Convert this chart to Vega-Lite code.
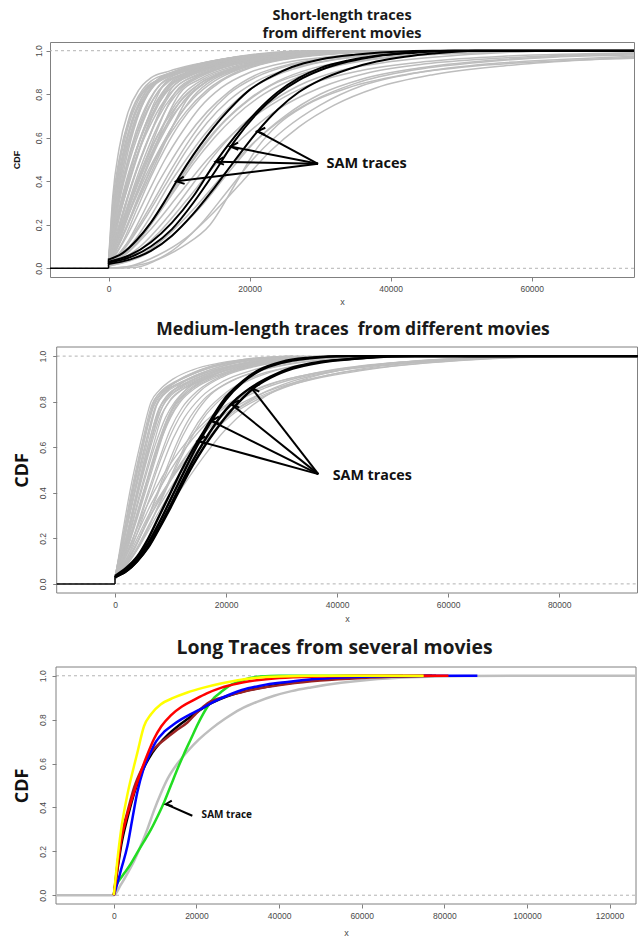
{
  "$schema": "https://vega.github.io/schema/vega-lite/v6.json",
  "background": "white",
  "padding": {"left": 12, "top": 7, "right": 3, "bottom": 2},
  "columns": 1,
  "align": "none",
  "bounds": "full",
  "spacing": 14,
  "config": {
    "view": {"stroke": "#808080", "strokeWidth": 1},
    "axis": {"grid": false, "domain": false, "tickColor": "#808080", "tickSize": 4, "tickWidth": 1, "labelFont": "Liberation Sans", "labelFontSize": 8.5, "labelColor": "#4a4a4a", "labelPadding": 3, "labelOverlap": false, "labelFlush": false, "titleFont": "Liberation Sans", "titleFontSize": 9, "titleFontWeight": "normal", "titleColor": "#4a4a4a"},
    "title": {"font": "Open Sans", "fontWeight": "bold", "color": "#1a1a1a", "anchor": "middle"}
  },
  "datasets": {
    "h": [{"y": 0}, {"y": 1}],
    "g1": [
      {"c":"a1","x":0,"y":0.02},{"c":"a1","x":600,"y":0.3},{"c":"a1","x":1500,"y":0.5},{"c":"a1","x":3000,"y":0.7},{"c":"a1","x":4800,"y":0.82},{"c":"a1","x":6000,"y":0.86},{"c":"a1","x":9000,"y":0.9},{"c":"a1","x":13000,"y":0.94},{"c":"a1","x":18000,"y":0.97},{"c":"a1","x":24000,"y":0.99},{"c":"a1","x":30000,"y":1},
      {"c":"a2","x":0,"y":0.02},{"c":"a2","x":700,"y":0.28},{"c":"a2","x":1700,"y":0.48},{"c":"a2","x":3300,"y":0.68},{"c":"a2","x":5200,"y":0.81},{"c":"a2","x":6500,"y":0.855},{"c":"a2","x":9500,"y":0.9},{"c":"a2","x":14000,"y":0.94},{"c":"a2","x":19000,"y":0.97},{"c":"a2","x":25000,"y":0.99},{"c":"a2","x":32000,"y":1},
      {"c":"a3","x":0,"y":0.01},{"c":"a3","x":800,"y":0.25},{"c":"a3","x":2000,"y":0.46},{"c":"a3","x":3800,"y":0.67},{"c":"a3","x":5600,"y":0.8},{"c":"a3","x":7000,"y":0.86},{"c":"a3","x":10000,"y":0.9},{"c":"a3","x":15000,"y":0.94},{"c":"a3","x":20000,"y":0.97},{"c":"a3","x":26000,"y":0.99},{"c":"a3","x":33000,"y":1},
      {"c":"a4","x":0,"y":0.02},{"c":"a4","x":900,"y":0.22},{"c":"a4","x":2300,"y":0.43},{"c":"a4","x":4200,"y":0.64},{"c":"a4","x":6000,"y":0.78},{"c":"a4","x":7500,"y":0.85},{"c":"a4","x":10500,"y":0.89},{"c":"a4","x":14000,"y":0.93},{"c":"a4","x":19000,"y":0.965},{"c":"a4","x":25000,"y":0.985},{"c":"a4","x":33000,"y":1},
      {"c":"a5","x":0,"y":0.02},{"c":"a5","x":1000,"y":0.2},{"c":"a5","x":2600,"y":0.4},{"c":"a5","x":4600,"y":0.6},{"c":"a5","x":6600,"y":0.77},{"c":"a5","x":8000,"y":0.85},{"c":"a5","x":11000,"y":0.9},{"c":"a5","x":16000,"y":0.95},{"c":"a5","x":22000,"y":0.98},{"c":"a5","x":28000,"y":0.995},{"c":"a5","x":34000,"y":1},
      {"c":"a6","x":0,"y":0.03},{"c":"a6","x":1200,"y":0.2},{"c":"a6","x":3000,"y":0.4},{"c":"a6","x":5000,"y":0.6},{"c":"a6","x":7000,"y":0.76},{"c":"a6","x":8500,"y":0.84},{"c":"a6","x":12000,"y":0.9},{"c":"a6","x":17000,"y":0.94},{"c":"a6","x":23000,"y":0.97},{"c":"a6","x":30000,"y":0.99},{"c":"a6","x":38000,"y":1},
      {"c":"a7","x":0,"y":0.02},{"c":"a7","x":1300,"y":0.18},{"c":"a7","x":3200,"y":0.38},{"c":"a7","x":5500,"y":0.58},{"c":"a7","x":7500,"y":0.74},{"c":"a7","x":9000,"y":0.83},{"c":"a7","x":12000,"y":0.89},{"c":"a7","x":16000,"y":0.93},{"c":"a7","x":21000,"y":0.96},{"c":"a7","x":28000,"y":0.985},{"c":"a7","x":36000,"y":1},
      {"c":"a8","x":0,"y":0.02},{"c":"a8","x":1500,"y":0.17},{"c":"a8","x":3600,"y":0.36},{"c":"a8","x":6000,"y":0.56},{"c":"a8","x":8000,"y":0.72},{"c":"a8","x":9500,"y":0.81},{"c":"a8","x":12500,"y":0.88},{"c":"a8","x":17000,"y":0.93},{"c":"a8","x":23000,"y":0.965},{"c":"a8","x":30000,"y":0.99},{"c":"a8","x":38000,"y":1},
      {"c":"a9","x":0,"y":0.03},{"c":"a9","x":1700,"y":0.16},{"c":"a9","x":4000,"y":0.35},{"c":"a9","x":6500,"y":0.55},{"c":"a9","x":8500,"y":0.71},{"c":"a9","x":10000,"y":0.8},{"c":"a9","x":13000,"y":0.87},{"c":"a9","x":18000,"y":0.93},{"c":"a9","x":24000,"y":0.965},{"c":"a9","x":32000,"y":0.99},{"c":"a9","x":40000,"y":1},
      {"c":"a10","x":0,"y":0.02},{"c":"a10","x":2000,"y":0.15},{"c":"a10","x":4500,"y":0.33},{"c":"a10","x":7200,"y":0.52},{"c":"a10","x":9500,"y":0.68},{"c":"a10","x":11000,"y":0.77},{"c":"a10","x":14000,"y":0.86},{"c":"a10","x":19000,"y":0.93},{"c":"a10","x":25000,"y":0.97},{"c":"a10","x":33000,"y":0.99},{"c":"a10","x":42000,"y":1},
      {"c":"a11","x":0,"y":0.01},{"c":"a11","x":1000,"y":0.25},{"c":"a11","x":2500,"y":0.5},{"c":"a11","x":4000,"y":0.68},{"c":"a11","x":5500,"y":0.8},{"c":"a11","x":7000,"y":0.87},{"c":"a11","x":9000,"y":0.9},{"c":"a11","x":12000,"y":0.93},{"c":"a11","x":16000,"y":0.96},{"c":"a11","x":21000,"y":0.985},{"c":"a11","x":27000,"y":1},
      {"c":"a12","x":0,"y":0.02},{"c":"a12","x":1500,"y":0.25},{"c":"a12","x":3500,"y":0.5},{"c":"a12","x":5500,"y":0.68},{"c":"a12","x":7500,"y":0.8},{"c":"a12","x":9000,"y":0.86},{"c":"a12","x":11000,"y":0.89},{"c":"a12","x":15000,"y":0.93},{"c":"a12","x":20000,"y":0.965},{"c":"a12","x":26000,"y":0.99},{"c":"a12","x":32000,"y":1},
      {"c":"a13","x":0,"y":0.02},{"c":"a13","x":2000,"y":0.22},{"c":"a13","x":4500,"y":0.46},{"c":"a13","x":6500,"y":0.62},{"c":"a13","x":8500,"y":0.75},{"c":"a13","x":10500,"y":0.83},{"c":"a13","x":13000,"y":0.88},{"c":"a13","x":17000,"y":0.93},{"c":"a13","x":22000,"y":0.965},{"c":"a13","x":28000,"y":0.99},{"c":"a13","x":35000,"y":1},
      {"c":"a14","x":0,"y":0.01},{"c":"a14","x":2500,"y":0.18},{"c":"a14","x":5000,"y":0.38},{"c":"a14","x":7500,"y":0.56},{"c":"a14","x":10000,"y":0.7},{"c":"a14","x":12000,"y":0.79},{"c":"a14","x":15000,"y":0.87},{"c":"a14","x":19000,"y":0.92},{"c":"a14","x":24000,"y":0.96},{"c":"a14","x":30000,"y":0.985},{"c":"a14","x":38000,"y":1},
      {"c":"b1","x":0,"y":0.02},{"c":"b1","x":2000,"y":0.12},{"c":"b1","x":4000,"y":0.27},{"c":"b1","x":6000,"y":0.42},{"c":"b1","x":8000,"y":0.55},{"c":"b1","x":10000,"y":0.66},{"c":"b1","x":13000,"y":0.78},{"c":"b1","x":16000,"y":0.86},{"c":"b1","x":20000,"y":0.92},{"c":"b1","x":25000,"y":0.96},{"c":"b1","x":32000,"y":0.985},{"c":"b1","x":40000,"y":1},
      {"c":"b2","x":0,"y":0.02},{"c":"b2","x":2500,"y":0.11},{"c":"b2","x":5000,"y":0.26},{"c":"b2","x":7000,"y":0.39},{"c":"b2","x":9000,"y":0.5},{"c":"b2","x":11000,"y":0.6},{"c":"b2","x":14000,"y":0.72},{"c":"b2","x":17000,"y":0.81},{"c":"b2","x":21000,"y":0.89},{"c":"b2","x":26000,"y":0.94},{"c":"b2","x":33000,"y":0.975},{"c":"b2","x":42000,"y":0.995},{"c":"b2","x":50000,"y":1},
      {"c":"b3","x":0,"y":0.01},{"c":"b3","x":3000,"y":0.1},{"c":"b3","x":6000,"y":0.24},{"c":"b3","x":8500,"y":0.38},{"c":"b3","x":11000,"y":0.5},{"c":"b3","x":13500,"y":0.61},{"c":"b3","x":16500,"y":0.72},{"c":"b3","x":20000,"y":0.82},{"c":"b3","x":24000,"y":0.89},{"c":"b3","x":29000,"y":0.94},{"c":"b3","x":36000,"y":0.975},{"c":"b3","x":45000,"y":0.993},{"c":"b3","x":55000,"y":1},
      {"c":"b4","x":0,"y":0.02},{"c":"b4","x":3000,"y":0.08},{"c":"b4","x":6000,"y":0.2},{"c":"b4","x":9000,"y":0.34},{"c":"b4","x":12000,"y":0.48},{"c":"b4","x":15000,"y":0.6},{"c":"b4","x":18000,"y":0.7},{"c":"b4","x":22000,"y":0.8},{"c":"b4","x":27000,"y":0.88},{"c":"b4","x":33000,"y":0.935},{"c":"b4","x":40000,"y":0.97},{"c":"b4","x":50000,"y":0.99},{"c":"b4","x":60000,"y":1},
      {"c":"b5","x":0,"y":0.03},{"c":"b5","x":1500,"y":0.15},{"c":"b5","x":3500,"y":0.33},{"c":"b5","x":5500,"y":0.49},{"c":"b5","x":7500,"y":0.62},{"c":"b5","x":9500,"y":0.72},{"c":"b5","x":12000,"y":0.81},{"c":"b5","x":15000,"y":0.88},{"c":"b5","x":19000,"y":0.93},{"c":"b5","x":24000,"y":0.965},{"c":"b5","x":30000,"y":0.99},{"c":"b5","x":38000,"y":1},
      {"c":"b6","x":0,"y":0.02},{"c":"b6","x":2000,"y":0.15},{"c":"b6","x":4500,"y":0.35},{"c":"b6","x":7000,"y":0.52},{"c":"b6","x":9000,"y":0.63},{"c":"b6","x":11000,"y":0.72},{"c":"b6","x":14000,"y":0.82},{"c":"b6","x":18000,"y":0.9},{"c":"b6","x":23000,"y":0.95},{"c":"b6","x":29000,"y":0.98},{"c":"b6","x":36000,"y":0.995},{"c":"b6","x":44000,"y":1},
      {"c":"b7","x":0,"y":0.01},{"c":"b7","x":2500,"y":0.1},{"c":"b7","x":5000,"y":0.22},{"c":"b7","x":8000,"y":0.38},{"c":"b7","x":11000,"y":0.54},{"c":"b7","x":14000,"y":0.67},{"c":"b7","x":17000,"y":0.77},{"c":"b7","x":21000,"y":0.86},{"c":"b7","x":26000,"y":0.92},{"c":"b7","x":32000,"y":0.96},{"c":"b7","x":40000,"y":0.985},{"c":"b7","x":50000,"y":1},
      {"c":"b8","x":0,"y":0.02},{"c":"b8","x":3500,"y":0.1},{"c":"b8","x":7000,"y":0.25},{"c":"b8","x":10000,"y":0.4},{"c":"b8","x":13000,"y":0.54},{"c":"b8","x":16000,"y":0.66},{"c":"b8","x":19000,"y":0.75},{"c":"b8","x":23000,"y":0.84},{"c":"b8","x":28000,"y":0.9},{"c":"b8","x":34000,"y":0.945},{"c":"b8","x":42000,"y":0.975},{"c":"b8","x":52000,"y":0.99},{"c":"b8","x":65000,"y":1},
      {"c":"b9","x":0,"y":0.02},{"c":"b9","x":1000,"y":0.2},{"c":"b9","x":2500,"y":0.4},{"c":"b9","x":4000,"y":0.55},{"c":"b9","x":6000,"y":0.7},{"c":"b9","x":8000,"y":0.8},{"c":"b9","x":10000,"y":0.86},{"c":"b9","x":13000,"y":0.91},{"c":"b9","x":17000,"y":0.95},{"c":"b9","x":22000,"y":0.975},{"c":"b9","x":28000,"y":0.99},{"c":"b9","x":35000,"y":1},
      {"c":"b10","x":0,"y":0.01},{"c":"b10","x":1800,"y":0.18},{"c":"b10","x":3800,"y":0.38},{"c":"b10","x":6000,"y":0.55},{"c":"b10","x":8000,"y":0.67},{"c":"b10","x":10000,"y":0.76},{"c":"b10","x":13000,"y":0.85},{"c":"b10","x":16000,"y":0.9},{"c":"b10","x":20000,"y":0.94},{"c":"b10","x":26000,"y":0.97},{"c":"b10","x":33000,"y":0.99},{"c":"b10","x":42000,"y":1},
      {"c":"d1","x":0,"y":0.02},{"c":"d1","x":800,"y":0.27},{"c":"d1","x":1900,"y":0.47},{"c":"d1","x":3500,"y":0.66},{"c":"d1","x":5400,"y":0.8},{"c":"d1","x":7000,"y":0.865},{"c":"d1","x":9500,"y":0.9},{"c":"d1","x":13000,"y":0.935},{"c":"d1","x":17000,"y":0.965},{"c":"d1","x":22000,"y":0.985},{"c":"d1","x":28000,"y":1},
      {"c":"d2","x":0,"y":0.03},{"c":"d2","x":1100,"y":0.24},{"c":"d2","x":2600,"y":0.45},{"c":"d2","x":4500,"y":0.64},{"c":"d2","x":6400,"y":0.78},{"c":"d2","x":8000,"y":0.85},{"c":"d2","x":10500,"y":0.89},{"c":"d2","x":14000,"y":0.925},{"c":"d2","x":18000,"y":0.955},{"c":"d2","x":24000,"y":0.98},{"c":"d2","x":31000,"y":1},
      {"c":"d3","x":0,"y":0.02},{"c":"d3","x":1400,"y":0.22},{"c":"d3","x":3200,"y":0.43},{"c":"d3","x":5200,"y":0.62},{"c":"d3","x":7200,"y":0.76},{"c":"d3","x":8800,"y":0.84},{"c":"d3","x":11500,"y":0.89},{"c":"d3","x":15500,"y":0.93},{"c":"d3","x":20000,"y":0.96},{"c":"d3","x":26000,"y":0.985},{"c":"d3","x":34000,"y":1},
      {"c":"d4","x":0,"y":0.01},{"c":"d4","x":1600,"y":0.2},{"c":"d4","x":3600,"y":0.42},{"c":"d4","x":5800,"y":0.61},{"c":"d4","x":7800,"y":0.75},{"c":"d4","x":9500,"y":0.83},{"c":"d4","x":12500,"y":0.885},{"c":"d4","x":16500,"y":0.925},{"c":"d4","x":21000,"y":0.955},{"c":"d4","x":27000,"y":0.98},{"c":"d4","x":35000,"y":1},
      {"c":"d5","x":0,"y":0.02},{"c":"d5","x":700,"y":0.2},{"c":"d5","x":1800,"y":0.42},{"c":"d5","x":3200,"y":0.62},{"c":"d5","x":4800,"y":0.76},{"c":"d5","x":6500,"y":0.84},{"c":"d5","x":8500,"y":0.88},{"c":"d5","x":11500,"y":0.91},{"c":"d5","x":15500,"y":0.945},{"c":"d5","x":21000,"y":0.975},{"c":"d5","x":28000,"y":1},
      {"c":"d6","x":0,"y":0.03},{"c":"d6","x":1000,"y":0.18},{"c":"d6","x":2500,"y":0.38},{"c":"d6","x":4300,"y":0.58},{"c":"d6","x":6200,"y":0.73},{"c":"d6","x":7900,"y":0.82},{"c":"d6","x":10000,"y":0.87},{"c":"d6","x":13500,"y":0.91},{"c":"d6","x":18000,"y":0.95},{"c":"d6","x":24000,"y":0.98},{"c":"d6","x":31000,"y":1},
      {"c":"d7","x":0,"y":0.02},{"c":"d7","x":1300,"y":0.16},{"c":"d7","x":3000,"y":0.35},{"c":"d7","x":5000,"y":0.54},{"c":"d7","x":7000,"y":0.69},{"c":"d7","x":9000,"y":0.79},{"c":"d7","x":11500,"y":0.86},{"c":"d7","x":15000,"y":0.91},{"c":"d7","x":20000,"y":0.955},{"c":"d7","x":26000,"y":0.98},{"c":"d7","x":34000,"y":1},
      {"c":"d8","x":0,"y":0.01},{"c":"d8","x":1800,"y":0.15},{"c":"d8","x":3800,"y":0.33},{"c":"d8","x":6000,"y":0.51},{"c":"d8","x":8200,"y":0.66},{"c":"d8","x":10200,"y":0.77},{"c":"d8","x":13000,"y":0.85},{"c":"d8","x":17000,"y":0.91},{"c":"d8","x":22000,"y":0.95},{"c":"d8","x":29000,"y":0.98},{"c":"d8","x":38000,"y":1},
      {"c":"d9","x":0,"y":0.02},{"c":"d9","x":500,"y":0.22},{"c":"d9","x":1300,"y":0.43},{"c":"d9","x":2600,"y":0.63},{"c":"d9","x":4200,"y":0.77},{"c":"d9","x":5800,"y":0.84},{"c":"d9","x":8000,"y":0.88},{"c":"d9","x":11000,"y":0.92},{"c":"d9","x":15000,"y":0.95},{"c":"d9","x":20000,"y":0.975},{"c":"d9","x":26000,"y":0.995},{"c":"d9","x":32000,"y":1},
      {"c":"d10","x":0,"y":0.03},{"c":"d10","x":900,"y":0.3},{"c":"d10","x":2100,"y":0.52},{"c":"d10","x":3700,"y":0.7},{"c":"d10","x":5500,"y":0.81},{"c":"d10","x":7200,"y":0.87},{"c":"d10","x":9800,"y":0.91},{"c":"d10","x":13500,"y":0.945},{"c":"d10","x":18000,"y":0.97},{"c":"d10","x":24000,"y":0.99},{"c":"d10","x":30000,"y":1},
      {"c":"d11","x":0,"y":0.02},{"c":"d11","x":1200,"y":0.28},{"c":"d11","x":2800,"y":0.5},{"c":"d11","x":4800,"y":0.68},{"c":"d11","x":6800,"y":0.8},{"c":"d11","x":8600,"y":0.86},{"c":"d11","x":11000,"y":0.895},{"c":"d11","x":15000,"y":0.935},{"c":"d11","x":20000,"y":0.965},{"c":"d11","x":27000,"y":0.99},{"c":"d11","x":34000,"y":1},
      {"c":"d12","x":0,"y":0.02},{"c":"d12","x":2200,"y":0.2},{"c":"d12","x":4700,"y":0.4},{"c":"d12","x":7000,"y":0.57},{"c":"d12","x":9200,"y":0.7},{"c":"d12","x":11200,"y":0.79},{"c":"d12","x":14000,"y":0.86},{"c":"d12","x":18000,"y":0.915},{"c":"d12","x":23000,"y":0.955},{"c":"d12","x":30000,"y":0.985},{"c":"d12","x":38000,"y":1},
      {"c":"d13","x":0,"y":0.01},{"c":"d13","x":2800,"y":0.16},{"c":"d13","x":5500,"y":0.34},{"c":"d13","x":8000,"y":0.5},{"c":"d13","x":10500,"y":0.63},{"c":"d13","x":13000,"y":0.74},{"c":"d13","x":16000,"y":0.83},{"c":"d13","x":20000,"y":0.9},{"c":"d13","x":25000,"y":0.945},{"c":"d13","x":32000,"y":0.975},{"c":"d13","x":40000,"y":0.993},{"c":"d13","x":48000,"y":1},
      {"c":"d14","x":0,"y":0.03},{"c":"d14","x":600,"y":0.33},{"c":"d14","x":1500,"y":0.55},{"c":"d14","x":2800,"y":0.72},{"c":"d14","x":4300,"y":0.82},{"c":"d14","x":6000,"y":0.875},{"c":"d14","x":8500,"y":0.905},{"c":"d14","x":12000,"y":0.935},{"c":"d14","x":16000,"y":0.96},{"c":"d14","x":21000,"y":0.98},{"c":"d14","x":27000,"y":1},
      {"c":"d15","x":0,"y":0.02},{"c":"d15","x":1600,"y":0.26},{"c":"d15","x":3600,"y":0.48},{"c":"d15","x":5800,"y":0.65},{"c":"d15","x":7900,"y":0.77},{"c":"d15","x":9800,"y":0.84},{"c":"d15","x":12500,"y":0.89},{"c":"d15","x":16500,"y":0.93},{"c":"d15","x":21500,"y":0.96},{"c":"d15","x":28000,"y":0.985},{"c":"d15","x":36000,"y":1},
      {"c":"d16","x":0,"y":0.02},{"c":"d16","x":2500,"y":0.22},{"c":"d16","x":5200,"y":0.42},{"c":"d16","x":7800,"y":0.58},{"c":"d16","x":10000,"y":0.7},{"c":"d16","x":12000,"y":0.78},{"c":"d16","x":15000,"y":0.86},{"c":"d16","x":19000,"y":0.92},{"c":"d16","x":24000,"y":0.96},{"c":"d16","x":31000,"y":0.985},{"c":"d16","x":40000,"y":1},
      {"c":"d17","x":0,"y":0.01},{"c":"d17","x":3200,"y":0.14},{"c":"d17","x":6200,"y":0.3},{"c":"d17","x":9000,"y":0.46},{"c":"d17","x":11500,"y":0.59},{"c":"d17","x":14000,"y":0.7},{"c":"d17","x":17000,"y":0.8},{"c":"d17","x":21000,"y":0.88},{"c":"d17","x":26000,"y":0.935},{"c":"d17","x":33000,"y":0.97},{"c":"d17","x":42000,"y":0.99},{"c":"d17","x":52000,"y":1},
      {"c":"d18","x":0,"y":0.02},{"c":"d18","x":1000,"y":0.22},{"c":"d18","x":2300,"y":0.44},{"c":"d18","x":3900,"y":0.63},{"c":"d18","x":5700,"y":0.77},{"c":"d18","x":7500,"y":0.85},{"c":"d18","x":10000,"y":0.895},{"c":"d18","x":13500,"y":0.93},{"c":"d18","x":18000,"y":0.96},{"c":"d18","x":23000,"y":0.98},{"c":"d18","x":30000,"y":1},
      {"c":"d19","x":0,"y":0.03},{"c":"d19","x":400,"y":0.18},{"c":"d19","x":1100,"y":0.4},{"c":"d19","x":2200,"y":0.6},{"c":"d19","x":3700,"y":0.75},{"c":"d19","x":5300,"y":0.83},{"c":"d19","x":7500,"y":0.87},{"c":"d19","x":10500,"y":0.905},{"c":"d19","x":14500,"y":0.94},{"c":"d19","x":19500,"y":0.97},{"c":"d19","x":25000,"y":0.99},{"c":"d19","x":31000,"y":1},
      {"c":"d20","x":0,"y":0.02},{"c":"d20","x":1900,"y":0.19},{"c":"d20","x":4100,"y":0.39},{"c":"d20","x":6400,"y":0.57},{"c":"d20","x":8600,"y":0.71},{"c":"d20","x":10600,"y":0.8},{"c":"d20","x":13500,"y":0.87},{"c":"d20","x":17500,"y":0.92},{"c":"d20","x":22500,"y":0.955},{"c":"d20","x":29000,"y":0.982},{"c":"d20","x":37000,"y":1},
      {"c":"d21","x":0,"y":0.02},{"c":"d21","x":3800,"y":0.12},{"c":"d21","x":7500,"y":0.28},{"c":"d21","x":10500,"y":0.43},{"c":"d21","x":13500,"y":0.57},{"c":"d21","x":16500,"y":0.68},{"c":"d21","x":20000,"y":0.78},{"c":"d21","x":24000,"y":0.86},{"c":"d21","x":29000,"y":0.92},{"c":"d21","x":36000,"y":0.96},{"c":"d21","x":45000,"y":0.985},{"c":"d21","x":56000,"y":1},
      {"c":"d22","x":0,"y":0.01},{"c":"d22","x":4500,"y":0.1},{"c":"d22","x":8500,"y":0.24},{"c":"d22","x":12000,"y":0.39},{"c":"d22","x":15000,"y":0.52},{"c":"d22","x":18000,"y":0.63},{"c":"d22","x":22000,"y":0.74},{"c":"d22","x":27000,"y":0.84},{"c":"d22","x":33000,"y":0.91},{"c":"d22","x":40000,"y":0.95},{"c":"d22","x":50000,"y":0.98},{"c":"d22","x":62000,"y":1},
      {"c":"d23","x":0,"y":0.02},{"c":"d23","x":750,"y":0.24},{"c":"d23","x":1700,"y":0.45},{"c":"d23","x":3100,"y":0.65},{"c":"d23","x":4700,"y":0.78},{"c":"d23","x":6300,"y":0.85},{"c":"d23","x":8700,"y":0.89},{"c":"d23","x":12000,"y":0.925},{"c":"d23","x":16500,"y":0.955},{"c":"d23","x":22000,"y":0.98},{"c":"d23","x":29000,"y":1},
      {"c":"d24","x":0,"y":0.02},{"c":"d24","x":1250,"y":0.2},{"c":"d24","x":2900,"y":0.4},{"c":"d24","x":4900,"y":0.6},{"c":"d24","x":6900,"y":0.75},{"c":"d24","x":8500,"y":0.83},{"c":"d24","x":11000,"y":0.88},{"c":"d24","x":14500,"y":0.92},{"c":"d24","x":19000,"y":0.955},{"c":"d24","x":25000,"y":0.98},{"c":"d24","x":33000,"y":1},
      {"c":"c1","x":0,"y":0},{"c":"c1","x":4000,"y":0.005},{"c":"c1","x":7000,"y":0.04},{"c":"c1","x":10500,"y":0.1},{"c":"c1","x":14400,"y":0.2},{"c":"c1","x":18200,"y":0.4},{"c":"c1","x":21000,"y":0.55},{"c":"c1","x":24000,"y":0.66},{"c":"c1","x":28000,"y":0.75},{"c":"c1","x":34000,"y":0.83},{"c":"c1","x":42000,"y":0.89},{"c":"c1","x":52000,"y":0.93},{"c":"c1","x":62000,"y":0.95},{"c":"c1","x":74500,"y":0.965},
      {"c":"c2","x":0,"y":0},{"c":"c2","x":3000,"y":0.01},{"c":"c2","x":7000,"y":0.06},{"c":"c2","x":11000,"y":0.14},{"c":"c2","x":15000,"y":0.26},{"c":"c2","x":19000,"y":0.4},{"c":"c2","x":23000,"y":0.54},{"c":"c2","x":27000,"y":0.65},{"c":"c2","x":32000,"y":0.75},{"c":"c2","x":38000,"y":0.83},{"c":"c2","x":46000,"y":0.89},{"c":"c2","x":56000,"y":0.93},{"c":"c2","x":66000,"y":0.955},{"c":"c2","x":74500,"y":0.97},
      {"c":"c3","x":0,"y":0.01},{"c":"c3","x":4000,"y":0.05},{"c":"c3","x":8000,"y":0.14},{"c":"c3","x":12000,"y":0.27},{"c":"c3","x":16000,"y":0.42},{"c":"c3","x":20000,"y":0.56},{"c":"c3","x":24000,"y":0.67},{"c":"c3","x":29000,"y":0.77},{"c":"c3","x":35000,"y":0.85},{"c":"c3","x":43000,"y":0.91},{"c":"c3","x":52000,"y":0.945},{"c":"c3","x":63000,"y":0.97},{"c":"c3","x":74500,"y":0.98},
      {"c":"c4","x":0,"y":0.01},{"c":"c4","x":3500,"y":0.06},{"c":"c4","x":7000,"y":0.16},{"c":"c4","x":11000,"y":0.31},{"c":"c4","x":15000,"y":0.47},{"c":"c4","x":19000,"y":0.6},{"c":"c4","x":24000,"y":0.73},{"c":"c4","x":30000,"y":0.83},{"c":"c4","x":37000,"y":0.9},{"c":"c4","x":45000,"y":0.94},{"c":"c4","x":55000,"y":0.965},{"c":"c4","x":65000,"y":0.98},{"c":"c4","x":74500,"y":0.99},
      {"c":"c5","x":0,"y":0.02},{"c":"c5","x":3000,"y":0.08},{"c":"c5","x":6000,"y":0.18},{"c":"c5","x":10000,"y":0.34},{"c":"c5","x":14000,"y":0.5},{"c":"c5","x":18000,"y":0.63},{"c":"c5","x":23000,"y":0.75},{"c":"c5","x":29000,"y":0.85},{"c":"c5","x":36000,"y":0.91},{"c":"c5","x":45000,"y":0.95},{"c":"c5","x":56000,"y":0.975},{"c":"c5","x":74500,"y":0.99},
      {"c":"c6","x":0,"y":0.01},{"c":"c6","x":5000,"y":0.06},{"c":"c6","x":9000,"y":0.15},{"c":"c6","x":13000,"y":0.28},{"c":"c6","x":17000,"y":0.44},{"c":"c6","x":21000,"y":0.59},{"c":"c6","x":25000,"y":0.7},{"c":"c6","x":30000,"y":0.8},{"c":"c6","x":36000,"y":0.87},{"c":"c6","x":44000,"y":0.92},{"c":"c6","x":54000,"y":0.955},{"c":"c6","x":64000,"y":0.975},{"c":"c6","x":74500,"y":0.985},
      {"c":"c7","x":0,"y":0},{"c":"c7","x":5000,"y":0.02},{"c":"c7","x":9000,"y":0.08},{"c":"c7","x":13000,"y":0.2},{"c":"c7","x":17000,"y":0.36},{"c":"c7","x":21000,"y":0.52},{"c":"c7","x":25000,"y":0.64},{"c":"c7","x":30000,"y":0.75},{"c":"c7","x":36000,"y":0.84},{"c":"c7","x":44000,"y":0.9},{"c":"c7","x":54000,"y":0.94},{"c":"c7","x":64000,"y":0.96},{"c":"c7","x":74500,"y":0.975}
    ],
    "k1": [
      {"c":"s1","x":0,"y":0.04},{"c":"s1","x":2000,"y":0.07},{"c":"s1","x":4000,"y":0.13},{"c":"s1","x":6000,"y":0.21},{"c":"s1","x":8000,"y":0.31},{"c":"s1","x":10000,"y":0.42},{"c":"s1","x":12000,"y":0.52},{"c":"s1","x":14000,"y":0.61},{"c":"s1","x":16000,"y":0.69},{"c":"s1","x":18000,"y":0.76},{"c":"s1","x":20000,"y":0.82},{"c":"s1","x":23000,"y":0.88},{"c":"s1","x":26000,"y":0.925},{"c":"s1","x":30000,"y":0.96},{"c":"s1","x":35000,"y":0.982},{"c":"s1","x":40000,"y":0.994},{"c":"s1","x":46000,"y":1},{"c":"s1","x":74500,"y":1},
      {"c":"s2","x":0,"y":0.03},{"c":"s2","x":3000,"y":0.06},{"c":"s2","x":6000,"y":0.12},{"c":"s2","x":9000,"y":0.21},{"c":"s2","x":12000,"y":0.33},{"c":"s2","x":15000,"y":0.48},{"c":"s2","x":18000,"y":0.61},{"c":"s2","x":21000,"y":0.72},{"c":"s2","x":24000,"y":0.81},{"c":"s2","x":27000,"y":0.875},{"c":"s2","x":30000,"y":0.92},{"c":"s2","x":34000,"y":0.955},{"c":"s2","x":38000,"y":0.977},{"c":"s2","x":43000,"y":0.992},{"c":"s2","x":48000,"y":1},{"c":"s2","x":74500,"y":1},
      {"c":"s3","x":0,"y":0.025},{"c":"s3","x":3000,"y":0.05},{"c":"s3","x":6000,"y":0.1},{"c":"s3","x":9000,"y":0.18},{"c":"s3","x":12000,"y":0.3},{"c":"s3","x":15000,"y":0.44},{"c":"s3","x":18000,"y":0.59},{"c":"s3","x":21000,"y":0.71},{"c":"s3","x":24000,"y":0.8},{"c":"s3","x":27000,"y":0.865},{"c":"s3","x":30000,"y":0.91},{"c":"s3","x":34000,"y":0.95},{"c":"s3","x":38000,"y":0.975},{"c":"s3","x":43000,"y":0.99},{"c":"s3","x":49000,"y":1},{"c":"s3","x":74500,"y":1},
      {"c":"s4","x":0,"y":0.02},{"c":"s4","x":3000,"y":0.04},{"c":"s4","x":6000,"y":0.08},{"c":"s4","x":9000,"y":0.15},{"c":"s4","x":12000,"y":0.25},{"c":"s4","x":15000,"y":0.37},{"c":"s4","x":18000,"y":0.5},{"c":"s4","x":21000,"y":0.625},{"c":"s4","x":24000,"y":0.73},{"c":"s4","x":27000,"y":0.81},{"c":"s4","x":30000,"y":0.865},{"c":"s4","x":34000,"y":0.915},{"c":"s4","x":38000,"y":0.95},{"c":"s4","x":42000,"y":0.972},{"c":"s4","x":46000,"y":0.987},{"c":"s4","x":52000,"y":1},{"c":"s4","x":74500,"y":1}
    ],
    "st1": [{"x":-8300,"y":0,"x2":0,"y2":0},{"x":0,"y":0,"x2":0,"y2":0.045}],
    "ar1": [
      {"a":"t1","x":29700,"y":0.48,"x2":9600,"y2":0.4},
      {"a":"t2","x":29700,"y":0.48,"x2":15200,"y2":0.49},
      {"a":"t3","x":29700,"y":0.48,"x2":17250,"y2":0.56},
      {"a":"t4","x":29700,"y":0.48,"x2":21080,"y2":0.63}
    ],
    "tx1": [{"x":30900,"y":0.479,"t":"SAM traces"}],
    "g2": [
      {"c":"p1","x":0,"y":0.03},{"c":"p1","x":1400,"y":0.2},{"c":"p1","x":3100,"y":0.4},{"c":"p1","x":5000,"y":0.6},{"c":"p1","x":7000,"y":0.8},{"c":"p1","x":8500,"y":0.85},{"c":"p1","x":11000,"y":0.89},{"c":"p1","x":14300,"y":0.93},{"c":"p1","x":18000,"y":0.96},{"c":"p1","x":23000,"y":0.985},{"c":"p1","x":31000,"y":1},
      {"c":"p2","x":0,"y":0.03},{"c":"p2","x":1700,"y":0.2},{"c":"p2","x":3600,"y":0.4},{"c":"p2","x":5600,"y":0.6},{"c":"p2","x":7600,"y":0.79},{"c":"p2","x":9000,"y":0.84},{"c":"p2","x":11500,"y":0.88},{"c":"p2","x":15000,"y":0.92},{"c":"p2","x":19000,"y":0.955},{"c":"p2","x":25000,"y":0.985},{"c":"p2","x":33000,"y":1},
      {"c":"p3","x":0,"y":0.02},{"c":"p3","x":2000,"y":0.2},{"c":"p3","x":4000,"y":0.4},{"c":"p3","x":6200,"y":0.6},{"c":"p3","x":8200,"y":0.78},{"c":"p3","x":9500,"y":0.83},{"c":"p3","x":12000,"y":0.87},{"c":"p3","x":15500,"y":0.91},{"c":"p3","x":20000,"y":0.95},{"c":"p3","x":26000,"y":0.98},{"c":"p3","x":35000,"y":1},
      {"c":"p4","x":0,"y":0.03},{"c":"p4","x":2200,"y":0.19},{"c":"p4","x":4500,"y":0.4},{"c":"p4","x":6800,"y":0.6},{"c":"p4","x":8800,"y":0.76},{"c":"p4","x":10000,"y":0.81},{"c":"p4","x":12500,"y":0.86},{"c":"p4","x":16000,"y":0.9},{"c":"p4","x":21000,"y":0.945},{"c":"p4","x":27000,"y":0.975},{"c":"p4","x":36000,"y":0.995},{"c":"p4","x":45000,"y":1},
      {"c":"p5","x":0,"y":0.02},{"c":"p5","x":2500,"y":0.18},{"c":"p5","x":5000,"y":0.38},{"c":"p5","x":7500,"y":0.58},{"c":"p5","x":9500,"y":0.72},{"c":"p5","x":11000,"y":0.79},{"c":"p5","x":13500,"y":0.85},{"c":"p5","x":17000,"y":0.9},{"c":"p5","x":22000,"y":0.945},{"c":"p5","x":28000,"y":0.975},{"c":"p5","x":37000,"y":0.995},{"c":"p5","x":46000,"y":1},
      {"c":"p6","x":0,"y":0.03},{"c":"p6","x":2800,"y":0.17},{"c":"p6","x":5500,"y":0.37},{"c":"p6","x":8000,"y":0.55},{"c":"p6","x":10000,"y":0.68},{"c":"p6","x":12000,"y":0.77},{"c":"p6","x":15000,"y":0.85},{"c":"p6","x":19000,"y":0.91},{"c":"p6","x":24000,"y":0.95},{"c":"p6","x":30000,"y":0.977},{"c":"p6","x":38000,"y":0.994},{"c":"p6","x":48000,"y":1},
      {"c":"p7","x":0,"y":0.02},{"c":"p7","x":3000,"y":0.16},{"c":"p7","x":6000,"y":0.36},{"c":"p7","x":8500,"y":0.52},{"c":"p7","x":10500,"y":0.64},{"c":"p7","x":12500,"y":0.73},{"c":"p7","x":15500,"y":0.82},{"c":"p7","x":19500,"y":0.89},{"c":"p7","x":25000,"y":0.94},{"c":"p7","x":32000,"y":0.975},{"c":"p7","x":40000,"y":0.993},{"c":"p7","x":50000,"y":1},
      {"c":"p8","x":0,"y":0.03},{"c":"p8","x":1500,"y":0.18},{"c":"p8","x":3300,"y":0.38},{"c":"p8","x":5200,"y":0.58},{"c":"p8","x":7300,"y":0.78},{"c":"p8","x":8800,"y":0.84},{"c":"p8","x":11500,"y":0.895},{"c":"p8","x":15000,"y":0.935},{"c":"p8","x":20000,"y":0.97},{"c":"p8","x":26000,"y":0.99},{"c":"p8","x":32000,"y":1},
      {"c":"p9","x":0,"y":0.02},{"c":"p9","x":1800,"y":0.17},{"c":"p9","x":3800,"y":0.37},{"c":"p9","x":5900,"y":0.57},{"c":"p9","x":8000,"y":0.75},{"c":"p9","x":9500,"y":0.82},{"c":"p9","x":12000,"y":0.88},{"c":"p9","x":16000,"y":0.93},{"c":"p9","x":21000,"y":0.965},{"c":"p9","x":27000,"y":0.988},{"c":"p9","x":34000,"y":1},
      {"c":"p10","x":0,"y":0.02},{"c":"p10","x":2300,"y":0.16},{"c":"p10","x":4800,"y":0.35},{"c":"p10","x":7200,"y":0.54},{"c":"p10","x":9300,"y":0.7},{"c":"p10","x":11000,"y":0.78},{"c":"p10","x":14000,"y":0.86},{"c":"p10","x":18000,"y":0.92},{"c":"p10","x":23000,"y":0.955},{"c":"p10","x":29000,"y":0.98},{"c":"p10","x":37000,"y":0.995},{"c":"p10","x":46000,"y":1},
      {"c":"p11","x":0,"y":0.03},{"c":"p11","x":3200,"y":0.14},{"c":"p11","x":6400,"y":0.32},{"c":"p11","x":9000,"y":0.49},{"c":"p11","x":11000,"y":0.61},{"c":"p11","x":13000,"y":0.71},{"c":"p11","x":16000,"y":0.81},{"c":"p11","x":20000,"y":0.88},{"c":"p11","x":25000,"y":0.93},{"c":"p11","x":31000,"y":0.965},{"c":"p11","x":39000,"y":0.988},{"c":"p11","x":50000,"y":1},
      {"c":"p12","x":0,"y":0.02},{"c":"p12","x":3500,"y":0.13},{"c":"p12","x":7000,"y":0.3},{"c":"p12","x":9500,"y":0.44},{"c":"p12","x":11500,"y":0.55},{"c":"p12","x":13500,"y":0.65},{"c":"p12","x":16500,"y":0.76},{"c":"p12","x":20000,"y":0.84},{"c":"p12","x":25000,"y":0.91},{"c":"p12","x":31000,"y":0.95},{"c":"p12","x":40000,"y":0.98},{"c":"p12","x":52000,"y":1},
      {"c":"p13","x":0,"y":0.03},{"c":"p13","x":1600,"y":0.2},{"c":"p13","x":3400,"y":0.42},{"c":"p13","x":5300,"y":0.63},{"c":"p13","x":7000,"y":0.78},{"c":"p13","x":8200,"y":0.83},{"c":"p13","x":10500,"y":0.87},{"c":"p13","x":13500,"y":0.9},{"c":"p13","x":18000,"y":0.94},{"c":"p13","x":24000,"y":0.97},{"c":"p13","x":32000,"y":0.99},{"c":"p13","x":42000,"y":1},
      {"c":"p14","x":0,"y":0.02},{"c":"p14","x":2000,"y":0.18},{"c":"p14","x":4200,"y":0.4},{"c":"p14","x":6400,"y":0.6},{"c":"p14","x":8300,"y":0.74},{"c":"p14","x":9800,"y":0.8},{"c":"p14","x":12000,"y":0.85},{"c":"p14","x":15500,"y":0.89},{"c":"p14","x":20000,"y":0.93},{"c":"p14","x":26000,"y":0.965},{"c":"p14","x":34000,"y":0.988},{"c":"p14","x":45000,"y":1},
      {"c":"p15","x":0,"y":0.03},{"c":"p15","x":2600,"y":0.19},{"c":"p15","x":5200,"y":0.41},{"c":"p15","x":7500,"y":0.6},{"c":"p15","x":9300,"y":0.72},{"c":"p15","x":11000,"y":0.8},{"c":"p15","x":13500,"y":0.87},{"c":"p15","x":17000,"y":0.92},{"c":"p15","x":22000,"y":0.96},{"c":"p15","x":28000,"y":0.985},{"c":"p15","x":36000,"y":1},
      {"c":"p16","x":0,"y":0.02},{"c":"p16","x":1200,"y":0.2},{"c":"p16","x":2800,"y":0.42},{"c":"p16","x":4600,"y":0.62},{"c":"p16","x":6500,"y":0.8},{"c":"p16","x":8000,"y":0.85},{"c":"p16","x":10500,"y":0.9},{"c":"p16","x":14000,"y":0.94},{"c":"p16","x":19000,"y":0.97},{"c":"p16","x":25000,"y":0.99},{"c":"p16","x":32000,"y":1},
      {"c":"p17","x":0,"y":0.03},{"c":"p17","x":2100,"y":0.21},{"c":"p17","x":4300,"y":0.43},{"c":"p17","x":6600,"y":0.64},{"c":"p17","x":8600,"y":0.78},{"c":"p17","x":10200,"y":0.83},{"c":"p17","x":12800,"y":0.87},{"c":"p17","x":16500,"y":0.91},{"c":"p17","x":21500,"y":0.95},{"c":"p17","x":28000,"y":0.98},{"c":"p17","x":37000,"y":1},
      {"c":"p18","x":0,"y":0.02},{"c":"p18","x":2700,"y":0.2},{"c":"p18","x":5400,"y":0.42},{"c":"p18","x":7900,"y":0.62},{"c":"p18","x":9900,"y":0.75},{"c":"p18","x":11500,"y":0.81},{"c":"p18","x":14200,"y":0.87},{"c":"p18","x":18000,"y":0.92},{"c":"p18","x":23000,"y":0.955},{"c":"p18","x":30000,"y":0.982},{"c":"p18","x":40000,"y":1},
      {"c":"p19","x":0,"y":0.03},{"c":"p19","x":3800,"y":0.17},{"c":"p19","x":7300,"y":0.37},{"c":"p19","x":10000,"y":0.53},{"c":"p19","x":12200,"y":0.65},{"c":"p19","x":14300,"y":0.74},{"c":"p19","x":17200,"y":0.83},{"c":"p19","x":21000,"y":0.89},{"c":"p19","x":26000,"y":0.935},{"c":"p19","x":33000,"y":0.97},{"c":"p19","x":42000,"y":0.99},{"c":"p19","x":54000,"y":1},
      {"c":"p20","x":0,"y":0.02},{"c":"p20","x":1900,"y":0.19},{"c":"p20","x":3900,"y":0.4},{"c":"p20","x":6000,"y":0.61},{"c":"p20","x":7900,"y":0.77},{"c":"p20","x":9200,"y":0.82},{"c":"p20","x":11800,"y":0.87},{"c":"p20","x":15200,"y":0.91},{"c":"p20","x":19500,"y":0.945},{"c":"p20","x":25500,"y":0.975},{"c":"p20","x":34000,"y":0.995},{"c":"p20","x":44000,"y":1},
      {"c":"p21","x":0,"y":0.03},{"c":"p21","x":1500,"y":0.21},{"c":"p21","x":3300,"y":0.43},{"c":"p21","x":5200,"y":0.64},{"c":"p21","x":7000,"y":0.79},{"c":"p21","x":8600,"y":0.845},{"c":"p21","x":11000,"y":0.885},{"c":"p21","x":14500,"y":0.925},{"c":"p21","x":19000,"y":0.96},{"c":"p21","x":25000,"y":0.985},{"c":"p21","x":33000,"y":1},
      {"c":"p22","x":0,"y":0.02},{"c":"p22","x":2400,"y":0.2},{"c":"p22","x":4800,"y":0.41},{"c":"p22","x":7100,"y":0.6},{"c":"p22","x":9100,"y":0.73},{"c":"p22","x":10800,"y":0.8},{"c":"p22","x":13200,"y":0.86},{"c":"p22","x":16800,"y":0.91},{"c":"p22","x":21500,"y":0.95},{"c":"p22","x":28000,"y":0.98},{"c":"p22","x":37000,"y":1},
      {"c":"p23","x":0,"y":0.03},{"c":"p23","x":1300,"y":0.19},{"c":"p23","x":2900,"y":0.4},{"c":"p23","x":4700,"y":0.6},{"c":"p23","x":6700,"y":0.79},{"c":"p23","x":8100,"y":0.84},{"c":"p23","x":10500,"y":0.88},{"c":"p23","x":13800,"y":0.92},{"c":"p23","x":18000,"y":0.955},{"c":"p23","x":24000,"y":0.985},{"c":"p23","x":32000,"y":1},
      {"c":"p24","x":0,"y":0.02},{"c":"p24","x":3000,"y":0.18},{"c":"p24","x":6000,"y":0.39},{"c":"p24","x":8600,"y":0.57},{"c":"p24","x":10700,"y":0.69},{"c":"p24","x":12600,"y":0.77},{"c":"p24","x":15500,"y":0.85},{"c":"p24","x":19500,"y":0.91},{"c":"p24","x":24500,"y":0.95},{"c":"p24","x":31000,"y":0.978},{"c":"p24","x":40000,"y":0.995},{"c":"p24","x":50000,"y":1},
      {"c":"p25","x":0,"y":0.03},{"c":"p25","x":2000,"y":0.2},{"c":"p25","x":4100,"y":0.42},{"c":"p25","x":6200,"y":0.63},{"c":"p25","x":8000,"y":0.77},{"c":"p25","x":9500,"y":0.82},{"c":"p25","x":12000,"y":0.865},{"c":"p25","x":15500,"y":0.905},{"c":"p25","x":20000,"y":0.945},{"c":"p25","x":26000,"y":0.975},{"c":"p25","x":35000,"y":0.995},{"c":"p25","x":45000,"y":1},
      {"c":"p26","x":0,"y":0.02},{"c":"p26","x":1600,"y":0.19},{"c":"p26","x":3500,"y":0.41},{"c":"p26","x":5500,"y":0.62},{"c":"p26","x":7400,"y":0.78},{"c":"p26","x":9000,"y":0.835},{"c":"p26","x":11500,"y":0.875},{"c":"p26","x":15000,"y":0.915},{"c":"p26","x":19500,"y":0.95},{"c":"p26","x":25500,"y":0.98},{"c":"p26","x":34000,"y":1},
      {"c":"p27","x":0,"y":0.03},{"c":"p27","x":4200,"y":0.16},{"c":"p27","x":8000,"y":0.35},{"c":"p27","x":11000,"y":0.51},{"c":"p27","x":13500,"y":0.63},{"c":"p27","x":16000,"y":0.73},{"c":"p27","x":19000,"y":0.81},{"c":"p27","x":23000,"y":0.88},{"c":"p27","x":28000,"y":0.93},{"c":"p27","x":35000,"y":0.965},{"c":"p27","x":44000,"y":0.988},{"c":"p27","x":56000,"y":1},
      {"c":"p28","x":0,"y":0.02},{"c":"p28","x":2800,"y":0.22},{"c":"p28","x":5600,"y":0.44},{"c":"p28","x":8100,"y":0.62},{"c":"p28","x":10000,"y":0.73},{"c":"p28","x":11800,"y":0.8},{"c":"p28","x":14500,"y":0.86},{"c":"p28","x":18500,"y":0.91},{"c":"p28","x":23500,"y":0.95},{"c":"p28","x":30000,"y":0.978},{"c":"p28","x":39000,"y":1},
      {"c":"q1","x":0,"y":0.03},{"c":"q1","x":3000,"y":0.15},{"c":"q1","x":6000,"y":0.3},{"c":"q1","x":9000,"y":0.42},{"c":"q1","x":12000,"y":0.52},{"c":"q1","x":15000,"y":0.61},{"c":"q1","x":18000,"y":0.69},{"c":"q1","x":21000,"y":0.75},{"c":"q1","x":25000,"y":0.81},{"c":"q1","x":30000,"y":0.86},{"c":"q1","x":36000,"y":0.9},{"c":"q1","x":44000,"y":0.935},{"c":"q1","x":52000,"y":0.96},{"c":"q1","x":62000,"y":0.98},{"c":"q1","x":75000,"y":0.995},{"c":"q1","x":90000,"y":1},
      {"c":"q2","x":0,"y":0.02},{"c":"q2","x":3000,"y":0.13},{"c":"q2","x":6000,"y":0.28},{"c":"q2","x":9000,"y":0.41},{"c":"q2","x":12000,"y":0.53},{"c":"q2","x":15000,"y":0.63},{"c":"q2","x":18000,"y":0.72},{"c":"q2","x":22000,"y":0.8},{"c":"q2","x":27000,"y":0.86},{"c":"q2","x":33000,"y":0.905},{"c":"q2","x":41000,"y":0.94},{"c":"q2","x":50000,"y":0.965},{"c":"q2","x":60000,"y":0.983},{"c":"q2","x":72000,"y":0.995},{"c":"q2","x":85000,"y":1},
      {"c":"q3","x":0,"y":0.03},{"c":"q3","x":3500,"y":0.16},{"c":"q3","x":7000,"y":0.33},{"c":"q3","x":10000,"y":0.46},{"c":"q3","x":13000,"y":0.57},{"c":"q3","x":16000,"y":0.66},{"c":"q3","x":20000,"y":0.75},{"c":"q3","x":25000,"y":0.82},{"c":"q3","x":31000,"y":0.875},{"c":"q3","x":38000,"y":0.915},{"c":"q3","x":46000,"y":0.945},{"c":"q3","x":56000,"y":0.97},{"c":"q3","x":68000,"y":0.99},{"c":"q3","x":80000,"y":1},
      {"c":"q4","x":0,"y":0.02},{"c":"q4","x":4000,"y":0.15},{"c":"q4","x":8000,"y":0.32},{"c":"q4","x":11000,"y":0.44},{"c":"q4","x":14000,"y":0.55},{"c":"q4","x":17000,"y":0.65},{"c":"q4","x":21000,"y":0.75},{"c":"q4","x":26000,"y":0.83},{"c":"q4","x":32000,"y":0.89},{"c":"q4","x":40000,"y":0.935},{"c":"q4","x":50000,"y":0.965},{"c":"q4","x":62000,"y":0.985},{"c":"q4","x":75000,"y":1},
      {"c":"q5","x":0,"y":0.03},{"c":"q5","x":2500,"y":0.16},{"c":"q5","x":5500,"y":0.33},{"c":"q5","x":8500,"y":0.47},{"c":"q5","x":11500,"y":0.58},{"c":"q5","x":14500,"y":0.67},{"c":"q5","x":18000,"y":0.75},{"c":"q5","x":22000,"y":0.815},{"c":"q5","x":27000,"y":0.87},{"c":"q5","x":34000,"y":0.915},{"c":"q5","x":42000,"y":0.95},{"c":"q5","x":52000,"y":0.975},{"c":"q5","x":64000,"y":0.992},{"c":"q5","x":78000,"y":1},
      {"c":"q6","x":0,"y":0.02},{"c":"q6","x":4000,"y":0.12},{"c":"q6","x":8000,"y":0.27},{"c":"q6","x":12000,"y":0.42},{"c":"q6","x":16000,"y":0.56},{"c":"q6","x":20000,"y":0.68},{"c":"q6","x":24000,"y":0.77},{"c":"q6","x":29000,"y":0.85},{"c":"q6","x":35000,"y":0.905},{"c":"q6","x":42000,"y":0.945},{"c":"q6","x":50000,"y":0.97},{"c":"q6","x":60000,"y":0.987},{"c":"q6","x":72000,"y":1},
      {"c":"q7","x":0,"y":0.02},{"c":"q7","x":3500,"y":0.14},{"c":"q7","x":7000,"y":0.3},{"c":"q7","x":10500,"y":0.44},{"c":"q7","x":14000,"y":0.56},{"c":"q7","x":17500,"y":0.66},{"c":"q7","x":21500,"y":0.75},{"c":"q7","x":26500,"y":0.82},{"c":"q7","x":32000,"y":0.875},{"c":"q7","x":39000,"y":0.92},{"c":"q7","x":47000,"y":0.953},{"c":"q7","x":57000,"y":0.976},{"c":"q7","x":69000,"y":0.992},{"c":"q7","x":82000,"y":1},
      {"c":"q8","x":0,"y":0.03},{"c":"q8","x":3000,"y":0.17},{"c":"q8","x":6500,"y":0.35},{"c":"q8","x":9500,"y":0.48},{"c":"q8","x":12500,"y":0.59},{"c":"q8","x":15500,"y":0.68},{"c":"q8","x":19000,"y":0.76},{"c":"q8","x":23500,"y":0.83},{"c":"q8","x":29000,"y":0.885},{"c":"q8","x":36000,"y":0.925},{"c":"q8","x":44000,"y":0.955},{"c":"q8","x":54000,"y":0.978},{"c":"q8","x":66000,"y":0.993},{"c":"q8","x":80000,"y":1}
    ],
    "k2": [
      {"c":"s1","x":0,"y":0.035},{"c":"s1","x":2000,"y":0.07},{"c":"s1","x":4000,"y":0.12},{"c":"s1","x":6000,"y":0.2},{"c":"s1","x":8000,"y":0.3},{"c":"s1","x":10000,"y":0.4},{"c":"s1","x":12000,"y":0.5},{"c":"s1","x":14000,"y":0.59},{"c":"s1","x":16000,"y":0.67},{"c":"s1","x":18000,"y":0.75},{"c":"s1","x":20000,"y":0.82},{"c":"s1","x":23000,"y":0.89},{"c":"s1","x":26000,"y":0.94},{"c":"s1","x":30000,"y":0.975},{"c":"s1","x":35000,"y":0.993},{"c":"s1","x":40000,"y":1},{"c":"s1","x":94100,"y":1},
      {"c":"s2","x":0,"y":0.03},{"c":"s2","x":2000,"y":0.06},{"c":"s2","x":4000,"y":0.11},{"c":"s2","x":6000,"y":0.18},{"c":"s2","x":8000,"y":0.27},{"c":"s2","x":10000,"y":0.37},{"c":"s2","x":12000,"y":0.47},{"c":"s2","x":14000,"y":0.57},{"c":"s2","x":16000,"y":0.66},{"c":"s2","x":18000,"y":0.74},{"c":"s2","x":20000,"y":0.81},{"c":"s2","x":23000,"y":0.885},{"c":"s2","x":26000,"y":0.935},{"c":"s2","x":30000,"y":0.97},{"c":"s2","x":35000,"y":0.99},{"c":"s2","x":42000,"y":1},{"c":"s2","x":94100,"y":1},
      {"c":"s3","x":0,"y":0.03},{"c":"s3","x":2000,"y":0.055},{"c":"s3","x":4000,"y":0.1},{"c":"s3","x":6000,"y":0.165},{"c":"s3","x":8000,"y":0.25},{"c":"s3","x":10000,"y":0.345},{"c":"s3","x":12000,"y":0.445},{"c":"s3","x":14000,"y":0.54},{"c":"s3","x":16000,"y":0.625},{"c":"s3","x":18000,"y":0.7},{"c":"s3","x":20000,"y":0.765},{"c":"s3","x":22000,"y":0.815},{"c":"s3","x":25000,"y":0.87},{"c":"s3","x":28000,"y":0.91},{"c":"s3","x":32000,"y":0.95},{"c":"s3","x":37000,"y":0.975},{"c":"s3","x":44000,"y":0.99},{"c":"s3","x":50000,"y":1},{"c":"s3","x":94100,"y":1},
      {"c":"s4","x":0,"y":0.03},{"c":"s4","x":2000,"y":0.055},{"c":"s4","x":4000,"y":0.1},{"c":"s4","x":6000,"y":0.16},{"c":"s4","x":8000,"y":0.245},{"c":"s4","x":10000,"y":0.335},{"c":"s4","x":12000,"y":0.43},{"c":"s4","x":14000,"y":0.52},{"c":"s4","x":16000,"y":0.6},{"c":"s4","x":18000,"y":0.67},{"c":"s4","x":20000,"y":0.735},{"c":"s4","x":22000,"y":0.79},{"c":"s4","x":25000,"y":0.86},{"c":"s4","x":28000,"y":0.905},{"c":"s4","x":32000,"y":0.945},{"c":"s4","x":37000,"y":0.972},{"c":"s4","x":44000,"y":0.99},{"c":"s4","x":54000,"y":1},{"c":"s4","x":94100,"y":1}
    ],
    "st2": [{"x":-10500,"y":0,"x2":0,"y2":0},{"x":0,"y":0,"x2":0,"y2":0.035}],
    "box2": [{"x":-10500,"x2":94100,"y":-0.04,"y2":1.04}],
    "ar2": [
      {"a":"t1","x":36620,"y":0.482,"x2":14900,"y2":0.628},
      {"a":"t2","x":36620,"y":0.482,"x2":17320,"y2":0.716},
      {"a":"t3","x":36620,"y":0.482,"x2":20940,"y2":0.789},
      {"a":"t4","x":36620,"y":0.482,"x2":24560,"y2":0.861}
    ],
    "tx2": [{"x":39200,"y":0.474,"t":"SAM traces"}],
    "g3": [
      {"c":"gray","x":-14000,"y":0},{"c":"gray","x":0,"y":0},{"c":"gray","x":1600,"y":0.045},{"c":"gray","x":3300,"y":0.1},{"c":"gray","x":5000,"y":0.16},{"c":"gray","x":6500,"y":0.225},{"c":"gray","x":8100,"y":0.3},{"c":"gray","x":9800,"y":0.39},{"c":"gray","x":11400,"y":0.465},{"c":"gray","x":13000,"y":0.53},{"c":"gray","x":15400,"y":0.6},{"c":"gray","x":17800,"y":0.655},{"c":"gray","x":20600,"y":0.71},{"c":"gray","x":23500,"y":0.757},{"c":"gray","x":27000,"y":0.805},{"c":"gray","x":30700,"y":0.848},{"c":"gray","x":34500,"y":0.88},{"c":"gray","x":38800,"y":0.909},{"c":"gray","x":43000,"y":0.93},{"c":"gray","x":47700,"y":0.947},{"c":"gray","x":55000,"y":0.968},{"c":"gray","x":62000,"y":0.982},{"c":"gray","x":72000,"y":0.993},{"c":"gray","x":85000,"y":0.999},{"c":"gray","x":100000,"y":1},{"c":"gray","x":126400,"y":1},
      {"c":"green","x":0,"y":0.03},{"c":"green","x":1000,"y":0.06},{"c":"green","x":2500,"y":0.1},{"c":"green","x":4000,"y":0.14},{"c":"green","x":5700,"y":0.195},{"c":"green","x":7300,"y":0.245},{"c":"green","x":9000,"y":0.3},{"c":"green","x":10600,"y":0.36},{"c":"green","x":12200,"y":0.425},{"c":"green","x":13800,"y":0.5},{"c":"green","x":15400,"y":0.575},{"c":"green","x":17000,"y":0.645},{"c":"green","x":18600,"y":0.71},{"c":"green","x":20600,"y":0.79},{"c":"green","x":22700,"y":0.86},{"c":"green","x":24300,"y":0.9},{"c":"green","x":25900,"y":0.925},{"c":"green","x":28000,"y":0.955},{"c":"green","x":30700,"y":0.977},{"c":"green","x":33000,"y":0.99},{"c":"green","x":35600,"y":0.997},{"c":"green","x":40000,"y":1},{"c":"green","x":70000,"y":1},
      {"c":"black","x":0,"y":0},{"c":"black","x":900,"y":0.12},{"c":"black","x":1800,"y":0.23},{"c":"black","x":3400,"y":0.36},{"c":"black","x":5000,"y":0.47},{"c":"black","x":7000,"y":0.57},{"c":"black","x":9000,"y":0.64},{"c":"black","x":11000,"y":0.69},{"c":"black","x":13000,"y":0.73},{"c":"black","x":15500,"y":0.77},{"c":"black","x":18000,"y":0.805},{"c":"black","x":20500,"y":0.84},{"c":"black","x":23000,"y":0.87},{"c":"black","x":26500,"y":0.9},{"c":"black","x":31000,"y":0.927},{"c":"black","x":37000,"y":0.95},{"c":"black","x":44000,"y":0.97},{"c":"black","x":52000,"y":0.985},{"c":"black","x":62000,"y":0.995},{"c":"black","x":77000,"y":1},
      {"c":"brown","x":0,"y":0},{"c":"brown","x":800,"y":0.13},{"c":"brown","x":1700,"y":0.255},{"c":"brown","x":3300,"y":0.38},{"c":"brown","x":4900,"y":0.49},{"c":"brown","x":6900,"y":0.58},{"c":"brown","x":9000,"y":0.65},{"c":"brown","x":11000,"y":0.69},{"c":"brown","x":13000,"y":0.72},{"c":"brown","x":15400,"y":0.755},{"c":"brown","x":17800,"y":0.787},{"c":"brown","x":20000,"y":0.83},{"c":"brown","x":22700,"y":0.875},{"c":"brown","x":26000,"y":0.9},{"c":"brown","x":30700,"y":0.924},{"c":"brown","x":36000,"y":0.945},{"c":"brown","x":42000,"y":0.962},{"c":"brown","x":50000,"y":0.978},{"c":"brown","x":60000,"y":0.99},{"c":"brown","x":70000,"y":0.997},{"c":"brown","x":78000,"y":1},
      {"c":"blue","x":0,"y":0},{"c":"blue","x":500,"y":0.03},{"c":"blue","x":1800,"y":0.12},{"c":"blue","x":3300,"y":0.225},{"c":"blue","x":4500,"y":0.35},{"c":"blue","x":5700,"y":0.47},{"c":"blue","x":7100,"y":0.57},{"c":"blue","x":8500,"y":0.635},{"c":"blue","x":10200,"y":0.7},{"c":"blue","x":12200,"y":0.745},{"c":"blue","x":14200,"y":0.775},{"c":"blue","x":16200,"y":0.8},{"c":"blue","x":18600,"y":0.825},{"c":"blue","x":21000,"y":0.848},{"c":"blue","x":24000,"y":0.88},{"c":"blue","x":27500,"y":0.91},{"c":"blue","x":31000,"y":0.935},{"c":"blue","x":35500,"y":0.955},{"c":"blue","x":42000,"y":0.972},{"c":"blue","x":48500,"y":0.985},{"c":"blue","x":60000,"y":0.996},{"c":"blue","x":75000,"y":1},{"c":"blue","x":88000,"y":1},
      {"c":"red","x":0,"y":0},{"c":"red","x":900,"y":0.13},{"c":"red","x":1700,"y":0.24},{"c":"red","x":3300,"y":0.37},{"c":"red","x":4900,"y":0.47},{"c":"red","x":6500,"y":0.56},{"c":"red","x":8100,"y":0.64},{"c":"red","x":9800,"y":0.715},{"c":"red","x":11500,"y":0.77},{"c":"red","x":13800,"y":0.82},{"c":"red","x":16500,"y":0.86},{"c":"red","x":19400,"y":0.89},{"c":"red","x":22500,"y":0.92},{"c":"red","x":25900,"y":0.945},{"c":"red","x":30000,"y":0.965},{"c":"red","x":34000,"y":0.978},{"c":"red","x":40000,"y":0.99},{"c":"red","x":50000,"y":0.997},{"c":"red","x":60000,"y":1},{"c":"red","x":81000,"y":1},
      {"c":"yellow","x":0,"y":0},{"c":"yellow","x":800,"y":0.15},{"c":"yellow","x":1700,"y":0.29},{"c":"yellow","x":3300,"y":0.46},{"c":"yellow","x":4900,"y":0.59},{"c":"yellow","x":5700,"y":0.65},{"c":"yellow","x":7300,"y":0.77},{"c":"yellow","x":9000,"y":0.825},{"c":"yellow","x":11400,"y":0.87},{"c":"yellow","x":14500,"y":0.9},{"c":"yellow","x":17800,"y":0.924},{"c":"yellow","x":21500,"y":0.945},{"c":"yellow","x":25900,"y":0.965},{"c":"yellow","x":30000,"y":0.98},{"c":"yellow","x":34000,"y":0.99},{"c":"yellow","x":40000,"y":0.997},{"c":"yellow","x":50000,"y":1},{"c":"yellow","x":75000,"y":1}
    ],
    "box3": [{"x":-14000,"x2":126400,"y":-0.04,"y2":1.04}],
    "ar3": [{"a":"t1","x":19000,"y":0.362,"x2":12590,"y2":0.415}],
    "tx3": [{"x":21250,"y":0.367,"t":"SAM trace"}]
  },
  "concat": [
    {
      "width": 584,
      "height": 235,
      "title": {"text": ["Short-length traces", "from different movies"], "fontSize": 14.5, "lineHeight": 17.5, "offset": 1},
      "layer": [
        {"data": {"name": "h"}, "mark": {"type": "rule", "stroke": "#b3b3b3", "strokeDash": [3, 3], "strokeWidth": 1}, "encoding": {"y": {"field": "y", "type": "quantitative"}}},
        {"data": {"name": "g1"}, "mark": {"type": "line", "stroke": "#bdbdbd", "strokeWidth": 1.5, "interpolate": "monotone"},
          "encoding": {
            "x": {"field": "x", "type": "quantitative", "scale": {"domain": [-8300, 74500], "nice": false, "zero": false}, "axis": {"values": [0, 20000, 40000, 60000], "format": "d", "title": "x", "titlePadding": 5}},
            "y": {"field": "y", "type": "quantitative", "scale": {"domain": [-0.04, 1.04], "nice": false, "zero": false}, "axis": {"values": [0, 0.2, 0.4, 0.6, 0.8, 1], "format": ".1f", "labelAngle": 270, "labelAlign": "center", "labelBaseline": "bottom", "title": "CDF", "titleFontSize": 9, "titleFontWeight": "bold", "titleColor": "#111111", "titlePadding": 12.5}},
            "detail": {"field": "c", "type": "nominal"}}},
        {"data": {"name": "k1"}, "mark": {"type": "line", "stroke": "#000000", "strokeWidth": 2, "interpolate": "monotone"}, "encoding": {"x": {"field": "x", "type": "quantitative"}, "y": {"field": "y", "type": "quantitative"}, "detail": {"field": "c", "type": "nominal"}}},
        {"data": {"name": "st1"}, "mark": {"type": "rule", "stroke": "#000000", "strokeWidth": 1.5}, "encoding": {"x": {"field": "x", "type": "quantitative"}, "y": {"field": "y", "type": "quantitative"}, "x2": {"field": "x2"}, "y2": {"field": "y2"}}},
        {"data": {"name": "ar1"}, "mark": {"type": "rule", "stroke": "#000000", "strokeWidth": 2}, "encoding": {"x": {"field": "x", "type": "quantitative"}, "y": {"field": "y", "type": "quantitative"}, "x2": {"field": "x2"}, "y2": {"field": "y2"}}},
        {"data": {"name": "ar1"}, "mark": {"type": "point", "shape": "M-0.45,1L0,0L0.45,1", "size": 256, "filled": false, "stroke": "#000000", "strokeWidth": 2, "opacity": 1},
          "encoding": {"x": {"field": "x2", "type": "quantitative"}, "y": {"field": "y2", "type": "quantitative"}, "angle": {"field": "a", "type": "ordinal", "scale": {"domain": ["t1", "t2", "t3", "t4"], "range": [263, 271.3, 281.3, 298.3]}, "legend": null}}},
        {"data": {"name": "tx1"}, "mark": {"type": "text", "align": "left", "baseline": "middle", "font": "Open Sans", "fontWeight": "bold", "fontSize": 14.5, "color": "#111111"}, "encoding": {"x": {"field": "x", "type": "quantitative"}, "y": {"field": "y", "type": "quantitative"}, "text": {"field": "t"}}}
      ]
    },
    {
      "width": 588,
      "height": 246,
      "view": {"stroke": null},
      "title": {"text": "Medium-length traces\u00a0 from different movies", "fontSize": 17.5, "offset": 8, "dx": 9},
      "layer": [
        {"data": {"name": "h"}, "mark": {"type": "rule", "stroke": "#b3b3b3", "strokeDash": [3, 3], "strokeWidth": 1}, "encoding": {"y": {"field": "y", "type": "quantitative"}, "x": {"datum": -10500}, "x2": {"datum": 94100}}},
        {"data": {"name": "box2"}, "mark": {"type": "rect", "filled": false, "stroke": "#808080", "strokeWidth": 1}, "encoding": {"x": {"field": "x", "type": "quantitative"}, "x2": {"field": "x2"}, "y": {"field": "y", "type": "quantitative"}, "y2": {"field": "y2"}}},
        {"data": {"name": "g2"}, "mark": {"type": "line", "stroke": "#bdbdbd", "strokeWidth": 1.3, "interpolate": "monotone"},
          "encoding": {
            "x": {"field": "x", "type": "quantitative", "scale": {"domain": [-10500, 94100], "range": [6.7, 587.5], "nice": false, "zero": false}, "axis": {"values": [0, 20000, 40000, 60000, 80000], "format": "d", "title": "x", "titlePadding": 6}},
            "y": {"field": "y", "type": "quantitative", "scale": {"domain": [-0.04, 1.04], "nice": false, "zero": false}, "axis": {"offset": -6.7, "values": [0, 0.2, 0.4, 0.6, 0.8, 1], "format": ".1f", "labelAngle": 270, "labelAlign": "center", "labelBaseline": "bottom", "labelPadding": 5, "title": "CDF", "titleFont": "Open Sans", "titleFontSize": 18, "titleFontWeight": "bold", "titleColor": "#111111", "titlePadding": 7}},
            "detail": {"field": "c", "type": "nominal"}}},
        {"data": {"name": "k2"}, "mark": {"type": "line", "stroke": "#000000", "strokeWidth": 2.4, "interpolate": "monotone"}, "encoding": {"x": {"field": "x", "type": "quantitative"}, "y": {"field": "y", "type": "quantitative"}, "detail": {"field": "c", "type": "nominal"}}},
        {"data": {"name": "st2"}, "mark": {"type": "rule", "stroke": "#000000", "strokeWidth": 1.5}, "encoding": {"x": {"field": "x", "type": "quantitative"}, "y": {"field": "y", "type": "quantitative"}, "x2": {"field": "x2"}, "y2": {"field": "y2"}}},
        {"data": {"name": "ar2"}, "mark": {"type": "rule", "stroke": "#000000", "strokeWidth": 2}, "encoding": {"x": {"field": "x", "type": "quantitative"}, "y": {"field": "y", "type": "quantitative"}, "x2": {"field": "x2"}, "y2": {"field": "y2"}}},
        {"data": {"name": "ar2"}, "mark": {"type": "point", "shape": "M-0.45,1L0,0L0.45,1", "size": 256, "filled": false, "stroke": "#000000", "strokeWidth": 2, "opacity": 1},
          "encoding": {"x": {"field": "x2", "type": "quantitative"}, "y": {"field": "y2", "type": "quantitative"}, "angle": {"field": "a", "type": "ordinal", "scale": {"domain": ["t1", "t2", "t3", "t4"], "range": [285.4, 296.4, 308.8, 322.2]}, "legend": null}}},
        {"data": {"name": "tx2"}, "mark": {"type": "text", "align": "left", "baseline": "middle", "font": "Open Sans", "fontWeight": "bold", "fontSize": 14.3, "color": "#111111"}, "encoding": {"x": {"field": "x", "type": "quantitative"}, "y": {"field": "y", "type": "quantitative"}, "text": {"field": "t"}}}
      ]
    },
    {
      "width": 586,
      "height": 237,
      "view": {"stroke": null},
      "title": {"text": "Long Traces from several movies", "fontSize": 19.4, "offset": 8, "dx": -8.5},
      "layer": [
        {"data": {"name": "h"}, "mark": {"type": "rule", "stroke": "#b3b3b3", "strokeDash": [3, 3], "strokeWidth": 1}, "encoding": {"y": {"field": "y", "type": "quantitative"}, "x": {"datum": -14000}, "x2": {"datum": 126400}}},
        {"data": {"name": "box3"}, "mark": {"type": "rect", "filled": false, "stroke": "#808080", "strokeWidth": 1}, "encoding": {"x": {"field": "x", "type": "quantitative"}, "x2": {"field": "x2"}, "y": {"field": "y", "type": "quantitative"}, "y2": {"field": "y2"}}},
        {"data": {"name": "g3"}, "mark": {"type": "line", "strokeWidth": 2.5, "interpolate": "monotone"},
          "encoding": {
            "x": {"field": "x", "type": "quantitative", "scale": {"domain": [-14000, 126400], "range": [6, 586], "nice": false, "zero": false}, "axis": {"values": [0, 20000, 40000, 60000, 80000, 100000, 120000], "format": "d", "title": "x", "titlePadding": 9}},
            "y": {"field": "y", "type": "quantitative", "scale": {"domain": [-0.04, 1.04], "nice": false, "zero": false}, "axis": {"offset": -6, "values": [0, 0.2, 0.4, 0.6, 0.8, 1], "format": ".1f", "labelAngle": 270, "labelAlign": "center", "labelBaseline": "bottom", "labelPadding": 5, "title": "CDF", "titleFont": "Open Sans", "titleFontSize": 18, "titleFontWeight": "bold", "titleColor": "#111111", "titlePadding": 7}},
            "color": {"field": "c", "type": "nominal", "scale": {"domain": ["gray", "green", "black", "brown", "blue", "red", "yellow"], "range": ["#bebebe", "#22dd22", "#000000", "#9b2323", "#0000ff", "#ff0000", "#ffff00"]}, "legend": null}}},
        {"data": {"name": "ar3"}, "mark": {"type": "rule", "stroke": "#000000", "strokeWidth": 2}, "encoding": {"x": {"field": "x", "type": "quantitative"}, "y": {"field": "y", "type": "quantitative"}, "x2": {"field": "x2"}, "y2": {"field": "y2"}}},
        {"data": {"name": "ar3"}, "mark": {"type": "point", "shape": "M-0.45,1L0,0L0.45,1", "size": 160, "filled": false, "stroke": "#000000", "strokeWidth": 2, "opacity": 1},
          "encoding": {"x": {"field": "x2", "type": "quantitative"}, "y": {"field": "y2", "type": "quantitative"}, "angle": {"field": "a", "type": "ordinal", "scale": {"domain": ["t1"], "range": [293.6]}, "legend": null}}},
        {"data": {"name": "tx3"}, "mark": {"type": "text", "align": "left", "baseline": "middle", "font": "Open Sans", "fontWeight": "bold", "fontSize": 10, "color": "#111111"}, "encoding": {"x": {"field": "x", "type": "quantitative"}, "y": {"field": "y", "type": "quantitative"}, "text": {"field": "t"}}}
      ]
    }
  ]
}
